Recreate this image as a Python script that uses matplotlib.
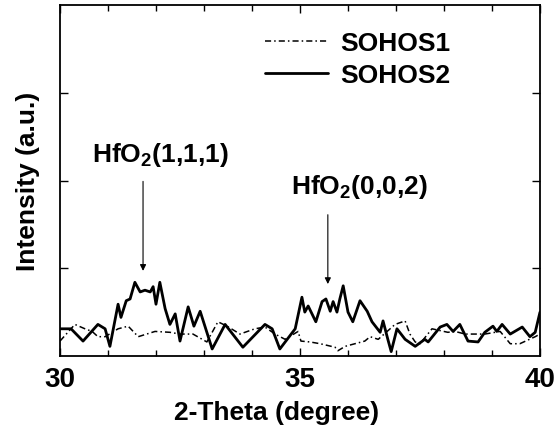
import matplotlib
matplotlib.use("Agg")
import matplotlib.pyplot as plt
from matplotlib.ticker import MultipleLocator

plt.rcParams['font.family'] = ['Liberation Sans', 'DejaVu Sans']
plt.rcParams['font.weight'] = 'bold'
plt.rcParams['mathtext.fontset'] = 'custom'
plt.rcParams['mathtext.rm'] = 'Liberation Sans:bold'
plt.rcParams['mathtext.bf'] = 'Liberation Sans:bold'

# SOHOS2 (solid)
s2_x = [30.00, 30.23, 30.48, 30.79, 30.94, 31.04, 31.21, 31.27, 31.38, 31.46, 31.56,
        31.67, 31.77, 31.88, 31.94, 32.00, 32.08, 32.19, 32.29, 32.40, 32.50, 32.67,
        32.79, 32.92, 33.17, 33.44, 33.81, 34.27, 34.42, 34.58, 34.90, 35.04, 35.10,
        35.17, 35.33, 35.46, 35.54, 35.63, 35.69, 35.77, 35.83, 35.90, 36.00, 36.10,
        36.25, 36.40, 36.50, 36.67, 36.73, 36.83, 36.90, 37.02, 37.19, 37.40, 37.60,
        37.67, 37.92, 38.06, 38.19, 38.33, 38.50, 38.71, 38.85, 39.02, 39.10, 39.21,
        39.38, 39.63, 39.79, 39.90, 40.00]
s2_y = [0.31, 0.31, 0.17, 0.36, 0.31, 0.11, 0.59, 0.44, 0.63, 0.65, 0.84,
        0.73, 0.75, 0.73, 0.79, 0.59, 0.84, 0.54, 0.36, 0.48, 0.17, 0.56,
        0.34, 0.51, 0.08, 0.36, 0.10, 0.36, 0.31, 0.08, 0.31, 0.67, 0.50,
        0.57, 0.39, 0.62, 0.65, 0.51, 0.62, 0.50, 0.65, 0.80, 0.50, 0.39,
        0.63, 0.51, 0.39, 0.27, 0.40, 0.19, 0.05, 0.31, 0.19, 0.11, 0.19,
        0.16, 0.33, 0.36, 0.28, 0.36, 0.17, 0.16, 0.27, 0.34, 0.28, 0.36,
        0.25, 0.33, 0.22, 0.27, 0.50]

# SOHOS1 (dash-dot)
s1_x = [30.00, 30.31, 30.52, 30.67, 30.79, 30.94, 31.21, 31.42, 31.63, 31.98, 32.29,
        32.50, 32.77, 33.06, 33.29, 33.48, 33.75, 34.06, 34.27, 34.48, 34.69, 34.96,
        35.02, 35.21, 35.42, 35.73, 35.79, 35.94, 36.35, 36.46, 36.63, 36.98, 37.19,
        37.29, 37.40, 37.50, 37.75, 38.08, 38.23, 38.44, 38.85, 39.17, 39.38, 39.58,
        39.90, 40.00]
s1_y = [0.17, 0.36, 0.31, 0.28, 0.22, 0.22, 0.31, 0.34, 0.22, 0.28, 0.27,
        0.25, 0.25, 0.16, 0.39, 0.34, 0.25, 0.31, 0.33, 0.25, 0.19, 0.28,
        0.17, 0.16, 0.14, 0.10, 0.06, 0.11, 0.17, 0.22, 0.19, 0.36, 0.40,
        0.25, 0.16, 0.14, 0.31, 0.27, 0.28, 0.25, 0.25, 0.28, 0.14, 0.14,
        0.22, 0.25]

labels = ["SOHOS1", "SOHOS2"]
peak_labels = ["HfO$_\\mathbf{2}$(1,1,1)", "HfO$_\\mathbf{2}$(0,0,2)"]
peak_x = [31.73, 35.58]
peak_tip_y = [0.97, 0.82]
peak_tail_y = [1.99, 1.61]
peak_text_x = [32.08, 36.23]
peak_text_y = [2.30, 1.94]

fig = plt.figure(figsize=(5.58, 4.31), dpi=100)
ax = fig.add_axes([60/558, 1-357/431, 480/558, 351/431])

ax.plot(s1_x, s1_y, color='black', lw=1.1, ls=(0, (4, 2, 1, 2)), label=labels[0])
ax.plot(s2_x, s2_y, color='black', lw=2.0, label=labels[1],
        solid_joinstyle='round', solid_capstyle='round')

ax.set_xlim(30, 40)
ax.set_ylim(0, 4)
ax.xaxis.set_major_locator(MultipleLocator(5))
ax.xaxis.set_minor_locator(MultipleLocator(1))
ax.set_yticks([1, 2, 3])
ax.set_yticklabels([])
ax.tick_params(which='both', direction='in', top=True, right=True, width=1)
ax.tick_params(which='major', length=6)
ax.tick_params(which='minor', length=4)
ax.tick_params(axis='x', labelsize=20, pad=7)
for sp in ax.spines.values():
    sp.set_linewidth(1.3)

ax.set_xlabel("2-Theta (degree)", fontsize=19, fontweight='bold')
ax.xaxis.set_label_coords(217/480, -0.125)
ax.set_ylabel("Intensity (a.u.)", fontsize=19, fontweight='bold', labelpad=11)

for lab, px, ty, tl, tx, tyy in zip(peak_labels, peak_x, peak_tip_y, peak_tail_y,
                                    peak_text_x, peak_text_y):
    ax.annotate('', xy=(px, ty), xytext=(px, tl),
                arrowprops=dict(arrowstyle='-|>', lw=0.8, color='black',
                                mutation_scale=9, shrinkA=0, shrinkB=0))
    ax.text(tx, tyy, lab, fontsize=19, fontweight='bold', ha='center', va='center')

leg = ax.legend(loc='upper right', bbox_to_anchor=(0.835, 0.955), frameon=False,
                fontsize=19, handlelength=2.4, handletextpad=0.45,
                labelspacing=0.3, borderaxespad=0)

fig.savefig("out.png", dpi=100)
